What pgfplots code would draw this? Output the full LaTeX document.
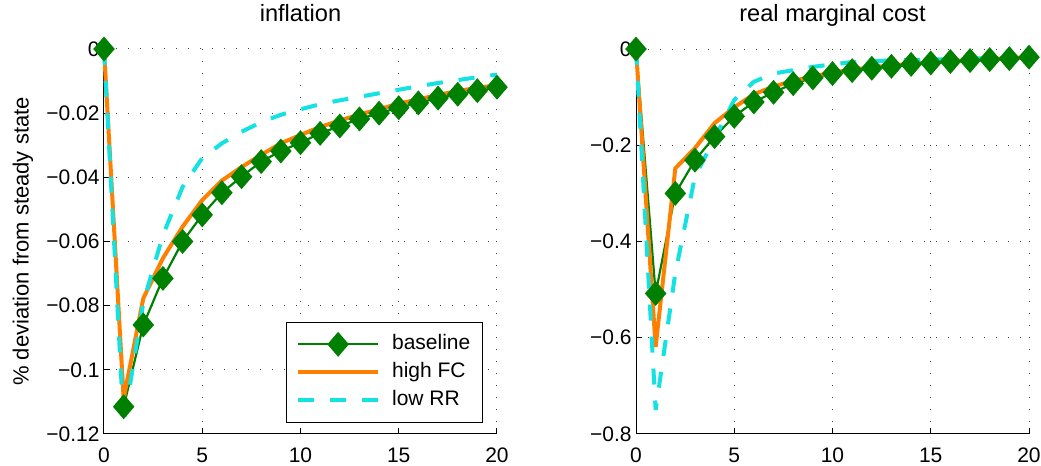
\documentclass[border=0pt]{standalone}
\usepackage{fontspec}
\setmainfont{Liberation Sans}
\usepackage{pgfplots}
\pgfplotsset{compat=1.18}

\definecolor{mgreen}{RGB}{0,128,0}
\definecolor{morange}{RGB}{255,128,0}
\definecolor{mcyan}{RGB}{20,225,225}

\pgfplotsset{
  irf/.style={
    scale only axis,
    width=196.5pt, height=192.5pt,
    xmin=0, xmax=20,
    axis lines=left,
    axis line style={-, black, line width=0.5pt},
    tick style={black, line width=0.5pt},
    tick align=inside,
    major tick length=3pt,
    xtick={0,5,10,15,20},
    /pgf/number format/assume math mode=true,
    grid=major,
    major grid style={black!75, line width=0.5pt, dash pattern=on 0.6pt off 5.4pt},
    ticklabel style={font=\fontsize{10.5}{12}\selectfont},
    xticklabel style={yshift=-3.5pt},
    yticklabel style={inner sep=1pt, xshift=-1pt},
    title style={font=\fontsize{11.8}{14}\selectfont, yshift=4pt, text depth=0pt},
    clip=false,
    legend image code/.code={
      \draw[mark repeat=2, mark phase=2, ##1] plot coordinates {(0pt,0pt) (20pt,0pt) (40pt,0pt)};
    },
  },
  base/.style={mgreen, line width=1.1pt, mark=diamond*, mark size=5.4pt,
    mark options={solid, fill=mgreen, draw=mgreen, xscale=1.15}},
  hifc/.style={morange, line width=2pt, no marks},
  lowrr/.style={mcyan, line width=2pt, dash pattern=on 8pt off 8pt, no marks},
}

\begin{document}
\begin{tikzpicture}
\useasboundingbox (-52pt,-16pt) rectangle (468.5pt,217pt);

% inflation
\begin{axis}[irf,
  ymin=-0.12, ymax=0,
  ytick={-0.12,-0.1,-0.08,-0.06,-0.04,-0.02,0},
  yticklabels={−0.12,−0.1,−0.08,−0.06,−0.04,−0.02,0},
  title={inflation},
  ylabel={\% deviation from steady state},
  ylabel style={font=\fontsize{11}{13}\selectfont, at={(axis description cs:-0.2061,0.5)}, anchor=center, rotate=0},
  legend style={at={(0.964,0.029)}, anchor=south east, draw=black, line width=0.5pt,
    fill=white, font=\fontsize{10.5}{12}\selectfont, inner xsep=5pt, inner ysep=5pt,
    row sep=2pt, cells={anchor=west},
    nodes={inner sep=1pt, text height=7.5pt, text depth=2.5pt},
    /tikz/every odd column/.append style={column sep=5pt}},
  legend cell align=left,
]
\addplot[base] table {
x y
0 0
1 -0.1115
2 -0.0860
3 -0.0715
4 -0.0600
5 -0.0517
6 -0.0448
7 -0.0398
8 -0.0351
9 -0.0318
10 -0.0292
11 -0.0263
12 -0.0240
13 -0.0218
14 -0.0200
15 -0.0183
16 -0.0168
17 -0.0153
18 -0.0141
19 -0.0130
20 -0.0119
};
\addlegendentry{baseline}
\addplot[hifc] table {
x y
0 0
1 -0.1090
2 -0.0777
3 -0.0652
4 -0.0554
5 -0.0471
6 -0.0410
7 -0.0368
8 -0.0330
9 -0.0294
10 -0.0268
11 -0.0243
12 -0.0223
13 -0.0204
14 -0.0188
15 -0.0170
16 -0.0157
17 -0.0143
18 -0.0131
19 -0.0121
20 -0.0113
};
\addlegendentry{high FC}
\addplot[lowrr] table {
x y
0 0
1 -0.1170
2 -0.0790
3 -0.0580
4 -0.0430
5 -0.0340
6 -0.0294
7 -0.0258
8 -0.0228
9 -0.0205
10 -0.0188
11 -0.0172
12 -0.0160
13 -0.0149
14 -0.0138
15 -0.0127
16 -0.0116
17 -0.0106
18 -0.0097
19 -0.0088
20 -0.0080
};
\addlegendentry{low RR}
\end{axis}

% real marginal cost
\begin{axis}[irf, at={(266pt,0pt)},
  ymin=-0.8, ymax=0,
  ytick={-0.8,-0.6,-0.4,-0.2,0},
  yticklabels={−0.8,−0.6,−0.4,−0.2,0},
  title={real marginal cost},
]
\addplot[base] table {
x y
0 0
1 -0.508
2 -0.300
3 -0.231
4 -0.182
5 -0.140
6 -0.110
7 -0.090
8 -0.072
9 -0.060
10 -0.051
11 -0.045
12 -0.040
13 -0.036
14 -0.032
15 -0.029
16 -0.026
17 -0.024
18 -0.022
19 -0.020
20 -0.017
};
\addplot[hifc] table {
x y
0 0
1 -0.619
2 -0.248
3 -0.206
4 -0.154
5 -0.121
6 -0.094
7 -0.078
8 -0.066
9 -0.057
10 -0.049
11 -0.043
12 -0.038
13 -0.034
14 -0.031
15 -0.028
16 -0.025
17 -0.023
18 -0.021
19 -0.019
20 -0.017
};
\addplot[lowrr] table {
x y
0 0
1 -0.750
2 -0.466
3 -0.265
4 -0.186
5 -0.106
6 -0.068
7 -0.051
8 -0.044
9 -0.037
10 -0.032
11 -0.027
12 -0.025
13 -0.024
14 -0.023
15 -0.022
16 -0.021
17 -0.020
18 -0.019
19 -0.018
20 -0.017
};
\end{axis}
\end{tikzpicture}
\end{document}
